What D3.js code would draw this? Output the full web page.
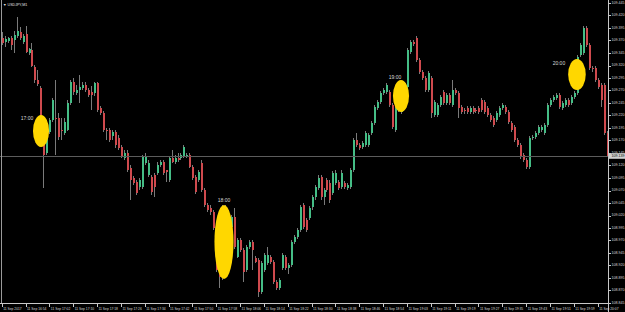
<!DOCTYPE html>
<html><head><meta charset="utf-8">
<script src="https://cdn.jsdelivr.net/npm/d3@7/dist/d3.min.js"></script>
<style>html,body{margin:0;padding:0;background:#000;overflow:hidden}svg{display:block}</style>
</head><body><svg id="c" width="625" height="312"></svg>
<script>
const symbolTitle = "\u25BC USDJPY,M1";
const openP = [109.375,109.367,109.369,109.375,109.371,109.379,109.387,109.367,109.383,109.345,
109.351,109.317,109.291,109.275,109.191,109.145,109.187,109.211,109.215,109.215,
109.191,109.185,109.191,109.245,109.287,109.265,109.271,109.275,109.281,109.271,
109.267,109.265,109.285,109.235,109.225,109.191,109.191,109.179,109.187,109.175,
109.157,109.135,109.145,109.115,109.095,109.087,109.077,109.077,109.125,109.101,
109.097,109.101,109.105,109.121,109.127,109.111,109.091,109.135,109.127,109.135,
109.135,109.137,109.137,109.141,109.117,109.097,109.091,109.125,109.071,109.041,
109.035,109.027,108.997,108.925,108.895,109.037,108.997,108.997,109.017,108.937,
108.971,108.951,108.911,108.957,108.967,108.935,108.931,108.867,108.911,108.925,
108.937,108.927,108.887,108.875,108.915,108.937,108.915,108.921,108.967,108.977,
108.991,109.041,109.011,109.015,109.037,109.057,109.075,109.097,109.057,109.091,
109.085,109.065,109.085,109.087,109.077,109.085,109.075,109.077,109.111,109.171,
109.161,109.157,109.161,109.161,109.185,109.205,109.235,109.247,109.265,109.267,
109.267,109.241,109.191,109.247,109.227,109.277,109.277,109.347,109.367,109.375,
109.331,109.307,109.295,109.271,109.295,109.221,109.221,109.241,109.267,109.245,
109.261,109.241,109.271,109.265,109.237,109.231,109.235,109.227,109.235,109.231,
109.235,109.251,109.247,109.235,109.221,109.215,109.211,109.221,109.235,109.237,
109.227,109.205,109.197,109.171,109.161,109.141,109.131,109.117,109.175,109.177,
109.185,109.191,109.185,109.201,109.241,109.251,109.255,109.261,109.235,109.241,
109.251,109.245,109.257,109.265,109.341,109.345,109.395,109.361,109.315,109.315,
109.291,109.281,109.281,109.185];
const highP = [109.387,109.379,109.377,109.379,109.389,109.417,109.397,109.383,109.399,109.355,
109.365,109.321,109.311,109.279,109.195,109.211,109.215,109.255,109.291,109.225,
109.215,109.215,109.251,109.291,109.295,109.281,109.301,109.287,109.287,109.275,
109.279,109.287,109.287,109.239,109.229,109.195,109.195,109.191,109.191,109.181,
109.161,109.151,109.151,109.121,109.099,109.091,109.095,109.141,109.145,109.131,
109.101,109.105,109.127,109.131,109.131,109.111,109.139,109.151,109.141,109.145,
109.145,109.161,109.145,109.145,109.121,109.101,109.111,109.131,109.075,109.045,
109.041,109.031,109.001,108.931,109.041,109.041,109.031,109.021,109.035,108.975,
108.975,108.955,108.961,108.971,108.971,108.939,108.935,108.929,108.945,108.957,
108.941,108.931,108.891,108.895,108.945,108.941,108.925,108.971,108.981,108.995,
109.041,109.045,109.015,109.039,109.061,109.081,109.101,109.101,109.075,109.095,
109.091,109.109,109.111,109.091,109.111,109.089,109.085,109.115,109.175,109.185,
109.165,109.169,109.189,109.185,109.209,109.241,109.251,109.269,109.275,109.285,
109.271,109.245,109.239,109.271,109.271,109.287,109.355,109.371,109.371,109.379,
109.335,109.311,109.299,109.309,109.299,109.251,109.245,109.261,109.271,109.265,
109.265,109.291,109.275,109.269,109.241,109.235,109.239,109.239,109.239,109.235,
109.239,109.255,109.251,109.239,109.225,109.219,109.229,109.239,109.245,109.241,
109.231,109.209,109.201,109.175,109.165,109.145,109.135,109.179,109.181,109.189,
109.201,109.201,109.205,109.245,109.255,109.261,109.265,109.265,109.249,109.255,
109.255,109.261,109.269,109.341,109.365,109.399,109.399,109.365,109.319,109.319,
109.295,109.285,109.285,109.189];
const lowP = [109.361,109.357,109.365,109.351,109.345,109.375,109.371,109.363,109.345,109.341,
109.317,109.285,109.279,109.187,109.075,109.141,109.183,109.207,109.141,109.171,
109.171,109.181,109.189,109.241,109.261,109.261,109.245,109.271,109.267,109.257,
109.231,109.259,109.227,109.221,109.187,109.171,109.167,109.171,109.155,109.151,
109.135,109.131,109.107,109.051,109.081,109.061,109.071,109.073,109.121,109.097,
109.061,109.057,109.101,109.117,109.101,109.087,109.087,109.125,109.123,109.127,
109.131,109.135,109.135,109.115,109.091,109.063,109.087,109.067,109.037,109.027,
109.021,108.991,108.907,108.875,108.891,108.987,108.985,108.993,108.953,108.935,
108.947,108.887,108.907,108.953,108.911,108.925,108.857,108.863,108.907,108.921,
108.923,108.883,108.871,108.871,108.911,108.911,108.903,108.917,108.963,108.973,
108.987,108.993,108.987,109.011,109.031,109.051,109.071,109.051,109.041,109.067,
109.045,109.061,109.081,109.071,109.073,109.073,109.071,109.073,109.107,109.157,
109.151,109.153,109.157,109.157,109.181,109.201,109.231,109.243,109.261,109.263,
109.237,109.193,109.187,109.227,109.223,109.275,109.273,109.343,109.359,109.327,
109.303,109.291,109.267,109.267,109.215,109.217,109.217,109.237,109.241,109.241,
109.241,109.237,109.261,109.215,109.223,109.223,109.223,109.223,109.223,109.225,
109.223,109.227,109.223,109.217,109.207,109.197,109.207,109.217,109.231,109.223,
109.203,109.187,109.167,109.157,109.133,109.127,109.113,109.113,109.171,109.173,
109.181,109.187,109.181,109.197,109.237,109.247,109.251,109.233,109.231,109.237,
109.237,109.241,109.253,109.261,109.337,109.341,109.357,109.311,109.307,109.287,
109.273,109.237,109.181,109.137];
const closeP = [109.365,109.373,109.375,109.361,109.381,109.389,109.375,109.379,109.347,109.353,
109.319,109.291,109.283,109.191,109.141,109.205,109.211,109.251,109.213,109.177,
109.189,109.207,109.245,109.287,109.267,109.271,109.277,109.281,109.271,109.261,
109.261,109.285,109.231,109.225,109.191,109.189,109.171,109.187,109.161,109.155,
109.137,109.145,109.111,109.091,109.085,109.065,109.091,109.137,109.137,109.125,
109.067,109.077,109.121,109.127,109.105,109.107,109.135,109.127,109.135,109.131,
109.141,109.157,109.141,109.117,109.095,109.067,109.107,109.071,109.041,109.031,
109.027,108.995,108.911,108.897,109.037,108.991,109.017,109.017,108.957,108.971,
108.951,108.907,108.957,108.967,108.951,108.927,108.867,108.925,108.941,108.941,
108.927,108.887,108.875,108.891,108.941,108.915,108.921,108.967,108.977,108.991,
109.037,108.997,108.991,109.035,109.057,109.077,109.095,109.057,109.071,109.071,
109.051,109.105,109.105,109.075,109.105,109.077,109.081,109.111,109.171,109.161,
109.155,109.165,109.185,109.181,109.205,109.237,109.247,109.265,109.271,109.281,
109.241,109.197,109.235,109.231,109.251,109.285,109.351,109.367,109.363,109.331,
109.307,109.295,109.271,109.305,109.225,109.247,109.241,109.257,109.245,109.261,
109.245,109.271,109.265,109.235,109.227,109.229,109.227,109.235,109.227,109.229,
109.227,109.231,109.227,109.221,109.211,109.201,109.225,109.235,109.241,109.227,
109.207,109.191,109.171,109.161,109.137,109.131,109.117,109.175,109.177,109.185,
109.197,109.197,109.201,109.241,109.251,109.257,109.261,109.237,109.245,109.251,
109.241,109.257,109.265,109.337,109.361,109.395,109.361,109.315,109.313,109.291,
109.277,109.251,109.185,109.139];
const priceTicks = [109.445,109.420,109.395,109.370,109.345,109.320,109.295,109.270,109.245,109.220,
109.195,109.170,109.145,109.120,109.095,109.070,109.045,109.020,108.995,108.970,
108.945,108.920,108.895,108.870,108.845];
const timeLabels = ["11 Sep 2017","11 Sep 16:54","11 Sep 17:02","11 Sep 17:10","11 Sep 17:18","11 Sep 17:26",
"11 Sep 17:34","11 Sep 17:42","11 Sep 17:50","11 Sep 17:58","11 Sep 18:06","11 Sep 18:14","11 Sep 18:22",
"11 Sep 18:30","11 Sep 18:38","11 Sep 18:46","11 Sep 18:54","11 Sep 19:03","11 Sep 19:11","11 Sep 19:19",
"11 Sep 19:27","11 Sep 19:35","11 Sep 19:43","11 Sep 19:51","11 Sep 19:59","11 Sep 20:07"];
const timeLabelBar = [0,8,16,24,32,40,48,56,64,72,80,88,96,104,112,120,128,136,144,152,160,168,176,184,192,200];
const annText = ["17:00","18:00","19:00","20:00"];
const annBarL = [10.5,71.4,131.3,190.1];
const annBarR = [15.9,77.8,136.7,196.0];
const annTop = [109.221,109.041,109.291,109.333];
const annBot = [109.157,108.893,109.227,109.271];
const annTextBar = [8.5,74.6,132,187];
const annTextPrice = [109.213,109.049,109.295,109.323];

const svg = d3.select("#c");
const W = 625, H = 312, plotR = 608, plotB = 303;
const n = openP.length;
const x = d3.scaleLinear().domain([0, n - 1]).range([1.69, 606.6]);
const y = d3.scaleLinear().domain([108.845, 109.445]).range([303, 3]);
const GREEN = "#45bd86", RED = "#cf4a4e", WICK = "#7a7a7a";

svg.append("rect").attr("width", W).attr("height", H).attr("fill", "#000");

const bars = d3.range(n).map(i => ({i, o: openP[i], h: highP[i], l: lowP[i], c: closeP[i]}));
const g = svg.append("g").attr("shape-rendering", "crispEdges");
g.selectAll("line.w").data(bars).join("line")
  .attr("x1", d => Math.round(x(d.i)) + 0.5).attr("x2", d => Math.round(x(d.i)) + 0.5)
  .attr("y1", d => y(d.h)).attr("y2", d => y(d.l))
  .attr("stroke", WICK).attr("stroke-width", 1);
g.selectAll("rect.b").data(bars).join("rect")
  .attr("x", d => Math.round(x(d.i)) - 0.5).attr("width", 2)
  .attr("y", d => y(Math.max(d.o, d.c)))
  .attr("height", d => Math.max(1, Math.abs(y(d.o) - y(d.c))))
  .attr("fill", d => d.c > d.o ? GREEN : (d.c < d.o ? RED : WICK));

// bid line
const bid = closeP[n - 1];
svg.append("line").attr("x1", 0).attr("x2", plotR).attr("y1", Math.round(y(bid)) + 0.5).attr("y2", Math.round(y(bid)) + 0.5)
  .attr("stroke", "#5c5c5c").attr("stroke-width", 1);

// annotations
const ann = annText.map((t, k) => ({t, k}));
svg.selectAll("ellipse.a").data(ann).join("ellipse")
  .attr("cx", d => (x(annBarL[d.k]) + x(annBarR[d.k])) / 2)
  .attr("cy", d => (y(annTop[d.k]) + y(annBot[d.k])) / 2)
  .attr("rx", d => (x(annBarR[d.k]) - x(annBarL[d.k])) / 2)
  .attr("ry", d => (y(annBot[d.k]) - y(annTop[d.k])) / 2)
  .attr("fill", "#ffd700");
svg.selectAll("text.a").data(ann).join("text")
  .attr("x", d => x(annTextBar[d.k])).attr("y", d => y(annTextPrice[d.k]))
  .attr("text-anchor", "middle").attr("dominant-baseline", "middle")
  .attr("font-family", "Liberation Sans, Arial, sans-serif").attr("font-size", 5)
  .attr("fill", "#d8d8d8").text(d => d.t);

// frame
const fr = svg.append("g").attr("shape-rendering", "crispEdges");
fr.append("line").attr("x1", 1.5).attr("x2", 1.5).attr("y1", 0).attr("y2", plotB).attr("stroke", "#9a9a9a");
fr.append("line").attr("x1", plotR + 0.5).attr("x2", plotR + 0.5).attr("y1", 0).attr("y2", H).attr("stroke", "#c8c8c8");
fr.append("line").attr("x1", 0).attr("x2", plotR).attr("y1", plotB + 0.5).attr("y2", plotB + 0.5).attr("stroke", "#c8c8c8");

// price axis
const pa = svg.append("g");
pa.selectAll("line").data(priceTicks).join("line")
  .attr("x1", plotR).attr("x2", plotR + 2.5).attr("y1", d => Math.round(y(d)) + 0.5).attr("y2", d => Math.round(y(d)) + 0.5)
  .attr("stroke", "#c8c8c8").attr("shape-rendering", "crispEdges");
pa.selectAll("text").data(priceTicks).join("text")
  .attr("x", plotR + 3.5).attr("y", d => y(d)).attr("dominant-baseline", "middle")
  .attr("font-family", "Liberation Sans, Arial, sans-serif").attr("font-size", 3.6)
  .attr("fill", "#d8d8d8").text(d => d3.format(".3f")(d));

// bid price box
const by = y(bid);
svg.append("rect").attr("x", plotR + 1).attr("y", by - 2.8).attr("width", 16).attr("height", 5.6).attr("fill", "#d0d0d0");
svg.append("text").attr("x", plotR + 3.5).attr("y", by).attr("dominant-baseline", "middle")
  .attr("font-family", "Liberation Sans, Arial, sans-serif").attr("font-size", 3.6).attr("fill", "#000")
  .text(d3.format(".3f")(bid));

// time axis
const ta = svg.append("g");
ta.selectAll("line").data(timeLabelBar).join("line")
  .attr("x1", d => Math.round(x(d)) + 0.5).attr("x2", d => Math.round(x(d)) + 0.5)
  .attr("y1", plotB).attr("y2", plotB + 4).attr("stroke", "#c8c8c8").attr("shape-rendering", "crispEdges");
ta.selectAll("text").data(timeLabels).join("text")
  .attr("x", (d, k) => x(timeLabelBar[k]) + 1.5).attr("y", 309)
  .attr("dominant-baseline", "middle")
  .attr("font-family", "Liberation Sans, Arial, sans-serif").attr("font-size", 3.3)
  .attr("fill", "#d8d8d8").text(d => d);

// title
svg.append("text").attr("x", 3).attr("y", 5).attr("dominant-baseline", "middle")
  .attr("font-family", "Liberation Sans, Arial, sans-serif").attr("font-size", 3.6)
  .attr("fill", "#e0e0e0").text(symbolTitle);
</script></body></html>
